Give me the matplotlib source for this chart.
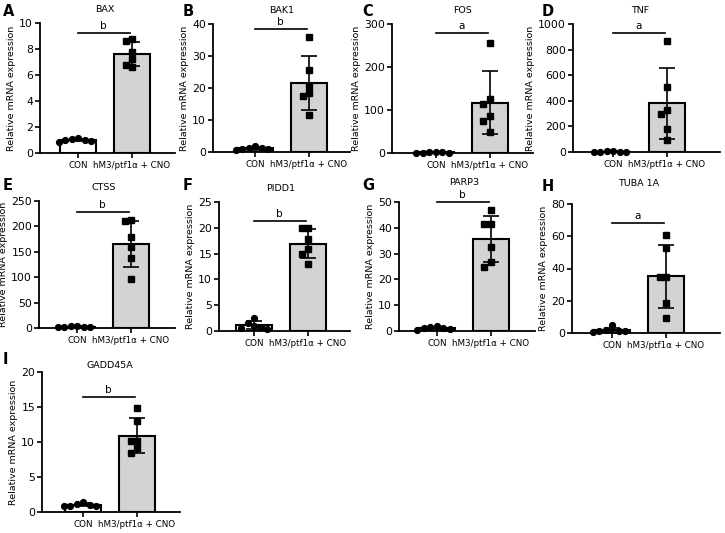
import numpy as np
import matplotlib.pyplot as plt

# values (6 animals per group)
genes = ['BAX', 'BAK1', 'FOS', 'TNF', 'CTSS', 'PIDD1', 'PARP3', 'TUBA 1A', 'GADD45A']
panel_ids = ['A', 'B', 'C', 'D', 'E', 'F', 'G', 'H', 'I']
groups = ['CON', 'hM3/ptf1α + CNO']
sig = ['b', 'b', 'a', 'a', 'b', 'b', 'b', 'a', 'b']

con_vals = [
    [1.15, 1.05, 1.0, 0.95, 0.85, 1.0],
    [1.8, 1.3, 1.0, 0.6, 0.8, 1.2],
    [2.0, 1.5, 1.0, 0.8, 1.2, 0.5],
    [5, 3, 2, 4, 3, 2],
    [3.5, 2.5, 2.0, 3.0, 2.8, 1.5],
    [2.5, 1.5, 0.8, 0.4, 0.6, 1.0],
    [1.8, 1.2, 0.8, 0.5, 1.0, 1.5],
    [4.8, 2.0, 1.0, 0.8, 1.2, 1.5],
    [1.4, 1.0, 0.9, 0.8, 1.1, 0.9],
]
cno_vals = [
    [8.6, 8.8, 7.8, 7.2, 6.65, 6.8],
    [36.0, 25.6, 20.7, 18.4, 17.4, 11.6],
    [255, 125, 113, 85, 74, 50],
    [870, 505, 300, 330, 180, 95],
    [211, 213, 179.5, 158.6, 137, 96],
    [20.0, 20.0, 17.9, 15.8, 15.0, 13.0],
    [46.8, 41.6, 41.6, 32.5, 25.0, 26.7],
    [60.7, 53.0, 34.5, 34.5, 18.7, 9.4],
    [14.8, 12.95, 10.1, 10.1, 9.1, 8.5],
]
ymax = [10, 40, 300, 1000, 250, 25, 50, 80, 20]
ystep = [2, 10, 100, 200, 50, 5, 10, 20, 5]

# layout (pixels in a 725x533 figure)
W, H = 725, 533
boxes = [(40, 23, 175, 153), (213, 24, 350, 152), (392, 24, 533, 153), (573, 24, 720, 152),
         (39, 201, 175, 328), (219, 202, 350, 331), (399, 202, 535, 331), (572, 204, 720, 333),
         (42, 372, 180, 512)]
first_bar = [38, 42, 44, 40, 38, 35, 38, 40, 41]
bar_gap = 54
sig_frac = [0.92, 0.96, 0.93, 0.93, 0.91, 0.85, 1.0, 0.85, 0.82]
title_pad = [8, 8, 8, 8, 8, 8, 12, 13, 3]
letter_pos = [(3, 12), (183, 12), (362, 12), (542, 12), (3, 185), (183, 185), (362, 185),
              (542, 186), (3, 360)]


def swarm(vals, yscale, d=6.5):
    # simple beeswarm: offsets in pixels so markers do not overlap
    order = np.argsort(vals)[::-1]
    placed = []
    offs = np.zeros(len(vals))
    cands = [0, -d, d, -2 * d, 2 * d, -3 * d, 3 * d]
    for i in order:
        y = vals[i] * yscale
        for c in cands:
            if all((c - px) ** 2 + (y - py) ** 2 >= d * d for px, py in placed):
                break
        offs[i] = c
        placed.append((c, y))
    return offs / bar_gap


fig = plt.figure(figsize=(W / 100, H / 100), dpi=100)

for k in range(9):
    l, t, r, b = boxes[k]
    ax = fig.add_axes([l / W, 1 - b / H, (r - l) / W, (b - t) / H])
    xlo = -first_bar[k] / bar_gap
    xhi = (r - l - first_bar[k]) / bar_gap
    yscale = (b - t) / ymax[k]

    data = [np.array(con_vals[k], float), np.array(cno_vals[k], float)]
    means = [v.mean() for v in data]
    sds = [v.std(ddof=1) for v in data]

    ax.bar([0, 1], means, width=0.66, color=['white', '#d3d3d3'], edgecolor='black',
           linewidth=1.5, zorder=1)
    ax.errorbar([0, 1], means, yerr=sds, fmt='none', ecolor='black', elinewidth=1.2,
                capsize=6, capthick=1.2, zorder=2)
    for g, mk in zip([0, 1], ['o', 's']):
        xs = g + swarm(data[g], yscale)
        ax.plot(xs, data[g], mk, color='black', ms=4.2, zorder=3, clip_on=False)

    # significance bar
    h = sig_frac[k] * ymax[k]
    ax.plot([0, 0.97], [h, h], color='black', lw=1.2, clip_on=False)
    ax.annotate(sig[k], (0.47, h), xytext=(0, 1.5), textcoords='offset points',
                ha='center', va='bottom', fontsize=7.5, annotation_clip=False)

    ax.set_xlim(xlo, xhi)
    ax.set_ylim(0, ymax[k])
    ax.set_yticks(np.arange(0, ymax[k] + ystep[k] / 2, ystep[k]))
    ax.set_xticks([0, 1])
    ax.set_xticklabels(groups, fontsize=6.3)
    ax.tick_params(axis='y', labelsize=7.8, length=3.5, width=1.2, pad=1.5)
    ax.tick_params(axis='x', length=3.5, width=1.2, pad=2)
    for s in ['top', 'right']:
        ax.spines[s].set_visible(False)
    for s in ['left', 'bottom']:
        ax.spines[s].set_linewidth(1.3)
    ax.set_ylabel('Relative mRNA expression', fontsize=6.8, labelpad=2)
    ax.set_title(genes[k], fontsize=6.8, pad=title_pad[k],
                 x=(0.5 - xlo) / (xhi - xlo))

    lx, ly = letter_pos[k]
    fig.text(lx / W, 1 - ly / H, panel_ids[k], fontsize=10.5, fontweight='bold',
             ha='left', va='center')

fig.savefig('out.png', dpi=100)
